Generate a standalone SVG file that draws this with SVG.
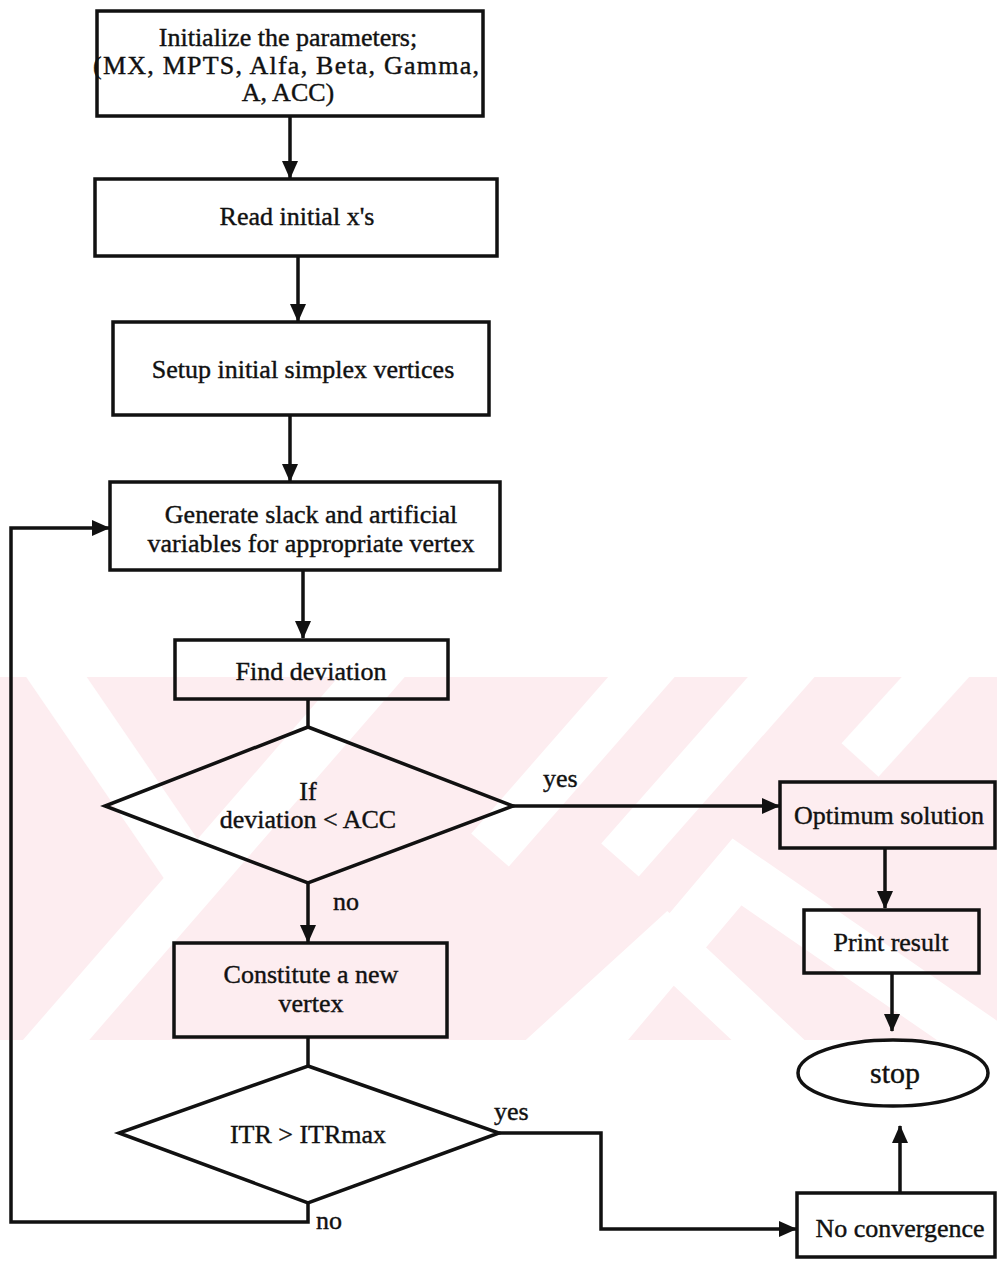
<svg xmlns="http://www.w3.org/2000/svg" width="997" height="1261" viewBox="0 0 997 1261">
<style>
.n{fill:none;stroke:#111;stroke-width:3.5}
.c{fill:none;stroke:#111;stroke-width:3.5}
.t{font-family:"Liberation Serif","Times New Roman",serif;font-size:26px;fill:#111;stroke:#111;stroke-width:0.4;text-anchor:middle}
.l{font-family:"Liberation Serif","Times New Roman",serif;font-size:26px;fill:#111;stroke:#111;stroke-width:0.4}
.w{fill:none;stroke:#fff;stroke-width:50}
</style>
<defs>
<marker id="ah" markerUnits="userSpaceOnUse" markerWidth="18" markerHeight="16" refX="17" refY="8" orient="auto">
<path d="M0,0 L18,8 L0,16 Z" fill="#111"/>
</marker>
<clipPath id="band"><rect x="0" y="677" width="997" height="363"/></clipPath>
</defs>
<rect width="997" height="1261" fill="#fff"/>
<g id="watermark" clip-path="url(#band)">
<rect x="0" y="677" width="997" height="363" fill="#fdedf0"/>
<path class="w" d="M38,650 L200,887"/>
<path class="w" d="M395,650 L30,1070"/>
<path class="w" d="M665,650 L490,850"/>
<path class="w" d="M805,650 L620,860"/>
<path class="w" d="M960,650 L860,760"/>
<path class="w" d="M570,1070 L737,872 L1010,1060"/>
<path class="w" d="M530,1070 L667,945 L800,1070"/>
</g>
<g id="connectors">
<path class="c" d="M290,116 V178" marker-end="url(#ah)"/>
<path class="c" d="M298,256 V321" marker-end="url(#ah)"/>
<path class="c" d="M290,415 V481" marker-end="url(#ah)"/>
<path class="c" d="M303,570 V638" marker-end="url(#ah)"/>
<path class="c" d="M308,699 V727"/>
<path class="c" d="M308,883 V942" marker-end="url(#ah)"/>
<path class="c" d="M513,806 H779" marker-end="url(#ah)"/>
<path class="c" d="M885,848 V908" marker-end="url(#ah)"/>
<path class="c" d="M892,973 V1031" marker-end="url(#ah)"/>
<path class="c" d="M308,1037 V1066"/>
<path class="c" d="M308,1203 V1222 H11 V528 H109" marker-end="url(#ah)"/>
<path class="c" d="M499,1133 H601 V1229 H796" marker-end="url(#ah)"/>
<path class="c" d="M900,1193 V1126" marker-end="url(#ah)"/>
<text class="l" x="543" y="787">yes</text>
<text class="l" x="333" y="910">no</text>
<text class="l" x="494" y="1120">yes</text>
<text class="l" x="316" y="1229">no</text>
</g>
<g id="init">
<rect class="n" x="97" y="11" width="386" height="105"/>
<text class="t" x="288" y="46">Initialize the parameters;</text>
<text class="l" x="93" y="74" textLength="386" lengthAdjust="spacing">(MX, MPTS, Alfa, Beta, Gamma,</text>
<text class="t" x="288" y="101">A, ACC)</text>
</g>
<g id="read">
<rect class="n" x="95" y="179" width="402" height="77"/>
<text class="t" x="297" y="225">Read initial x's</text>
</g>
<g id="setup">
<rect class="n" x="113" y="322" width="376" height="93"/>
<text class="t" x="303" y="378">Setup initial simplex vertices</text>
</g>
<g id="generate">
<rect class="n" x="110" y="482" width="390" height="88"/>
<text class="t" x="311" y="523">Generate slack and artificial</text>
<text class="t" x="311" y="552">variables for appropriate vertex</text>
</g>
<g id="find">
<rect class="n" x="175" y="640" width="273" height="59"/>
<text class="t" x="311" y="680">Find deviation</text>
</g>
<g id="decision1">
<polygon class="n" points="308,727 513,806 308,883 105,806"/>
<text class="t" x="308" y="800">If</text>
<text class="t" x="308" y="828">deviation &lt; ACC</text>
</g>
<g id="constitute">
<rect class="n" x="174" y="943" width="273" height="94"/>
<text class="t" x="311" y="983">Constitute a new</text>
<text class="t" x="311" y="1012">vertex</text>
</g>
<g id="decision2">
<polygon class="n" points="308,1066 499,1133 308,1203 119,1133"/>
<text class="t" x="308" y="1143">ITR &gt; ITRmax</text>
</g>
<g id="optimum">
<rect class="n" x="780" y="782" width="215" height="66"/>
<text class="t" x="889" y="824">Optimum solution</text>
</g>
<g id="print">
<rect class="n" x="804" y="910" width="175" height="63"/>
<text class="t" x="891" y="951">Print result</text>
</g>
<g id="stop">
<ellipse class="n" cx="893" cy="1073" rx="95" ry="33"/>
<text class="t" x="895" y="1083" style="font-size:30px">stop</text>
</g>
<g id="noconv">
<rect class="n" x="797" y="1193" width="198" height="64"/>
<text class="t" x="900" y="1237">No convergence</text>
</g>
</svg>
